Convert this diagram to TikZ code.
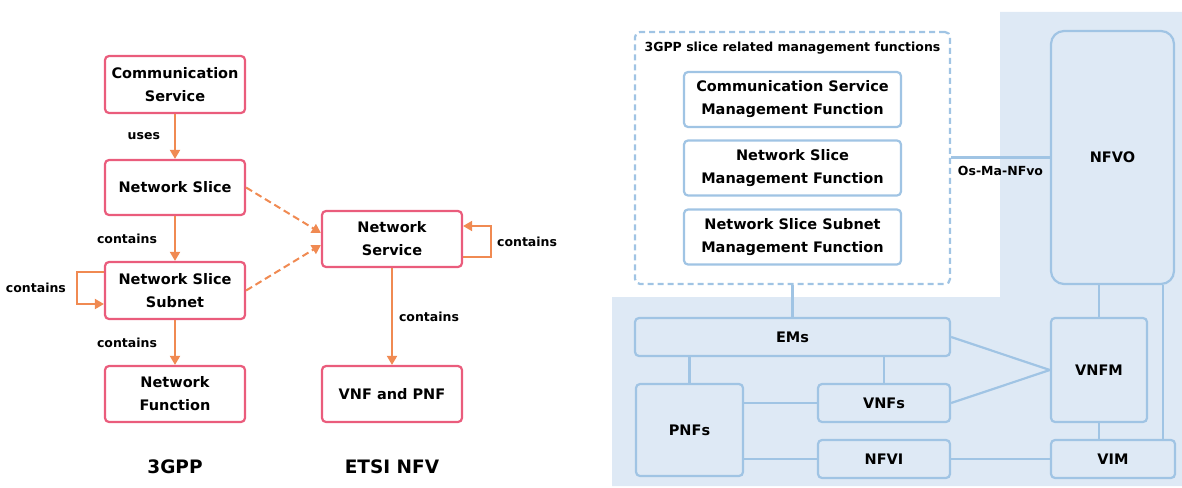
\documentclass[tikz,border=0pt]{standalone}
\usepackage{fontspec}
\setmainfont{DejaVu Sans}
\usetikzlibrary{arrows.meta,calc}
\definecolor{pinkb}{RGB}{234,92,124}
\definecolor{orangea}{RGB}{240,138,82}
\definecolor{blueb}{RGB}{160,196,228}
\definecolor{bgblue}{RGB}{222,233,245}
\newcommand\bxfont{\bfseries\fontsize{14.5}{23}\selectfont}
\newcommand\lblfont{\bfseries\fontsize{12.5}{15}\selectfont}
\newcommand\ttlfont{\bfseries\fontsize{18.5}{22}\selectfont}
\begin{document}
\begin{tikzpicture}[x=1pt,y=-1pt,
  pbox/.style={draw=pinkb, line width=2.2pt, rounded corners=4pt, fill=white,
    minimum width=140pt, minimum height=56pt, inner sep=0pt, align=center, font=\bxfont},
  bbox/.style={draw=blueb, line width=2.2pt, rounded corners=4pt, fill=bgblue,
    inner sep=0pt, align=center, font=\bxfont},
  wbox/.style={bbox, fill=white, minimum width=217pt, minimum height=55pt},
  oarrow/.style={draw=orangea, line width=2pt, -{Triangle[length=9pt,width=10pt]}},
  odash/.style={oarrow, dash pattern=on 7pt off 4pt},
  bline/.style={draw=blueb, line width=2.2pt},
  lbl/.style={font=\lblfont, inner sep=0pt},
  ttl/.style={font=\ttlfont, inner sep=0pt}]
\useasboundingbox (0,0) rectangle (1182,487);

% ---------- left: 3GPP / ETSI NFV ----------
\node[pbox, minimum height=57pt] (cs)  at (175,84.5) {Communication\\Service};
\node[pbox, minimum height=55pt] (ns)  at (175,187.5) {Network Slice};
\node[pbox, minimum height=57pt] (nss) at (175,290.5) {Network Slice\\Subnet};
\node[pbox] (nf)  at (175,394) {Network\\Function};
\node[pbox] (nsv) at (392,239) {Network\\Service};
\node[pbox] (vp)  at (392,394) {VNF and PNF};
\node[ttl] (t1) at (175,467) {3GPP};
\node[ttl] (t2) at (392,467) {ETSI NFV};

\draw[oarrow] (cs) -- node[lbl, left=14pt] {uses} (ns);
\draw[oarrow] (ns) -- node[lbl, left=17pt] {contains} (nss);
\draw[oarrow] (nss) -- node[lbl, left=17pt] {contains} (nf);
\draw[oarrow] (nsv) -- node[lbl, right=6pt] {contains} (vp);
\draw[oarrow] ($(nss.west)+(0,-18.5)$) -- ++(-27,0) -- ++(0,32)
   node[midway, lbl, left=10pt] {contains} -- ($(nss.west)+(0,13.5)$);
\draw[oarrow] ($(nsv.east)+(0,18)$) -- ++(28,0) -- ++(0,-31)
   node[midway, lbl, right=5pt] {contains} -- ($(nsv.east)+(0,-13)$);
\draw[odash] (ns.east) -- ($(nsv.west)+(0,-6)$);
\draw[odash] (nss.east) -- ($(nsv.west)+(0,6)$);

% ---------- right: management architecture ----------
\fill[bgblue] (1000,12) -- (1182,12) -- (1182,486) -- (612,486) -- (612,297) -- (1000,297) -- cycle;

\node[draw=blueb, line width=2.2pt, dash pattern=on 6pt off 4pt, rounded corners=5pt, fill=white,
  minimum width=315pt, minimum height=252pt, inner sep=0pt] (dash) at (792.5,158) {};
\node[lbl] (dt) at (792.5,48) {3GPP slice related management functions};
\node[wbox] (csmf)  at (792.5,99.5) {Communication Service\\Management Function};
\node[wbox] (nsmf)  at (792.5,168) {Network Slice\\Management Function};
\node[wbox] (nssmf) at (792.5,237) {Network Slice Subnet\\Management Function};

\node[bbox, rounded corners=13pt, minimum width=123pt, minimum height=253pt] (nfvo) at (1112.5,157.5) {NFVO};
\node[bbox, minimum width=315pt, minimum height=38pt] (ems)  at (792.5,337) {EMs};
\node[bbox, minimum width=107pt, minimum height=92pt] (pnfs) at (689.5,430) {PNFs};
\node[bbox, minimum width=132pt, minimum height=38pt] (vnfs) at (884,403) {VNFs};
\node[bbox, minimum width=132pt, minimum height=38pt] (nfvi) at (884,459) {NFVI};
\node[bbox, minimum width=96pt, minimum height=104pt] (vnfm) at (1099,370) {VNFM};
\node[bbox, minimum width=124pt, minimum height=38pt] (vim)  at (1113,459) {VIM};

\draw[bline] (dash.east |- nfvo.west) -- node[midway, lbl, below=8pt] {Os-Ma-NFvo} (nfvo.west);
\draw[bline] (dash.south) -- (ems.north);
\draw[bline] (pnfs.north |- ems.south) -- (pnfs.north);
\draw[bline] (vnfs.north |- ems.south) -- (vnfs.north);
\draw[bline] (pnfs.east |- vnfs.west) -- (vnfs.west);
\draw[bline] (pnfs.east |- nfvi.west) -- (nfvi.west);
\draw[bline] (nfvi.east) -- (vim.west);
\draw[bline] (ems.east) -- (vnfm.west);
\draw[bline] (vnfs.east) -- (vnfm.west);
\draw[bline] (vnfm.north |- nfvo.south) -- (vnfm.north);
\draw[bline] ([xshift=-12pt]nfvo.south east) -- ([xshift=-12pt]nfvo.south east |- vim.north);
\draw[bline] (vnfm.south) -- (vnfm.south |- vim.north);
\end{tikzpicture}
\end{document}
